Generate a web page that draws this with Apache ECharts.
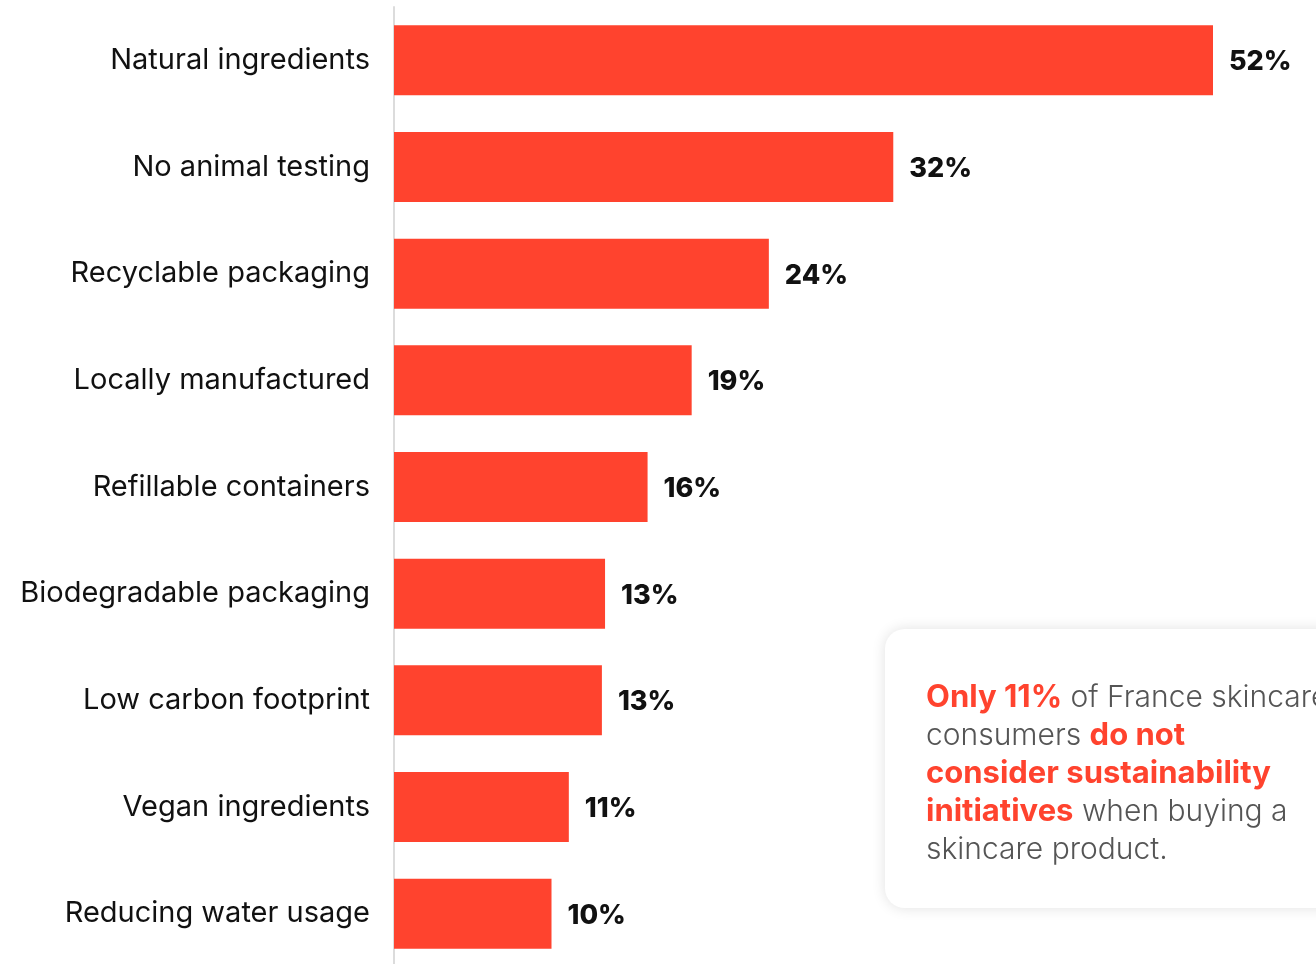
<!DOCTYPE html>
<html>
<head>
<meta charset="utf-8">
<script src="https://cdn.jsdelivr.net/npm/echarts@6/dist/echarts.min.js"></script>
<style>
html,body{margin:0;padding:0;background:#fff;}
#chart{width:1316px;height:964px;}
</style>
</head>
<body>
<div id="chart"></div>
<script>
const categories = [
  'Natural ingredients',
  'No animal testing',
  'Recyclable packaging',
  'Locally manufactured',
  'Refillable containers',
  'Biodegradable packaging',
  'Low carbon footprint',
  'Vegan ingredients',
  'Reducing water usage'
];
const values = [52, 31.7, 23.8, 18.9, 16.1, 13.4, 13.2, 11.1, 10.0];
const valueLabels = ['52%', '32%', '24%', '19%', '16%', '13%', '13%', '11%', '10%'];

const RED = '#FF432E';
const chart = echarts.init(document.getElementById('chart'));
chart.setOption({
  animation: false,
  grid: { left: 394, top: 7, width: 945, height: 960, containLabel: false, outerBoundsMode: 'none' },
  xAxis: {
    type: 'value', min: 0, max: 60,
    show: false
  },
  yAxis: {
    type: 'category',
    data: categories,
    inverse: true,
    axisLine: { show: true, lineStyle: { color: '#dcdcdc', width: 2 } },
    axisTick: { show: false },
    axisLabel: { color: '#111', fontSize: 29, fontFamily: 'Inter', margin: 24 }
  },
  series: [{
    type: 'bar',
    data: values,
    barWidth: 70,
    clip: false,
    itemStyle: { color: RED },
    label: {
      show: true, position: 'right', distance: 16, offset: [0, 2],
      color: '#111', fontSize: 27, fontWeight: 800, fontFamily: 'Inter',
      formatter: p => valueLabels[p.dataIndex]
    }
  }],
  graphic: [
    {
      type: 'rect',
      shape: { x: 885, y: 629, width: 480, height: 279, r: 20 },
      style: { fill: '#fff', shadowBlur: 14, shadowColor: 'rgba(0,0,0,0.12)', shadowOffsetY: 0 },
      z: 10
    },
    {
      type: 'text',
      left: 926, top: 682,
      z: 11,
      style: {
        text: '{r|Only 11%}{g| of France skincare}\n{g|consumers }{r|do not}\n{r|consider sustainability}\n{r|initiatives}{g| when buying a}\n{g|skincare product.}',
        rich: {
          r: { fill: RED, fontSize: 31, fontWeight: 'bold', fontFamily: 'Inter', lineHeight: 38 },
          g: { fill: '#555', fontSize: 30, fontWeight: 300, fontFamily: 'Inter', lineHeight: 38 }
        }
      }
    }
  ]
});
</script>
</body>
</html>
